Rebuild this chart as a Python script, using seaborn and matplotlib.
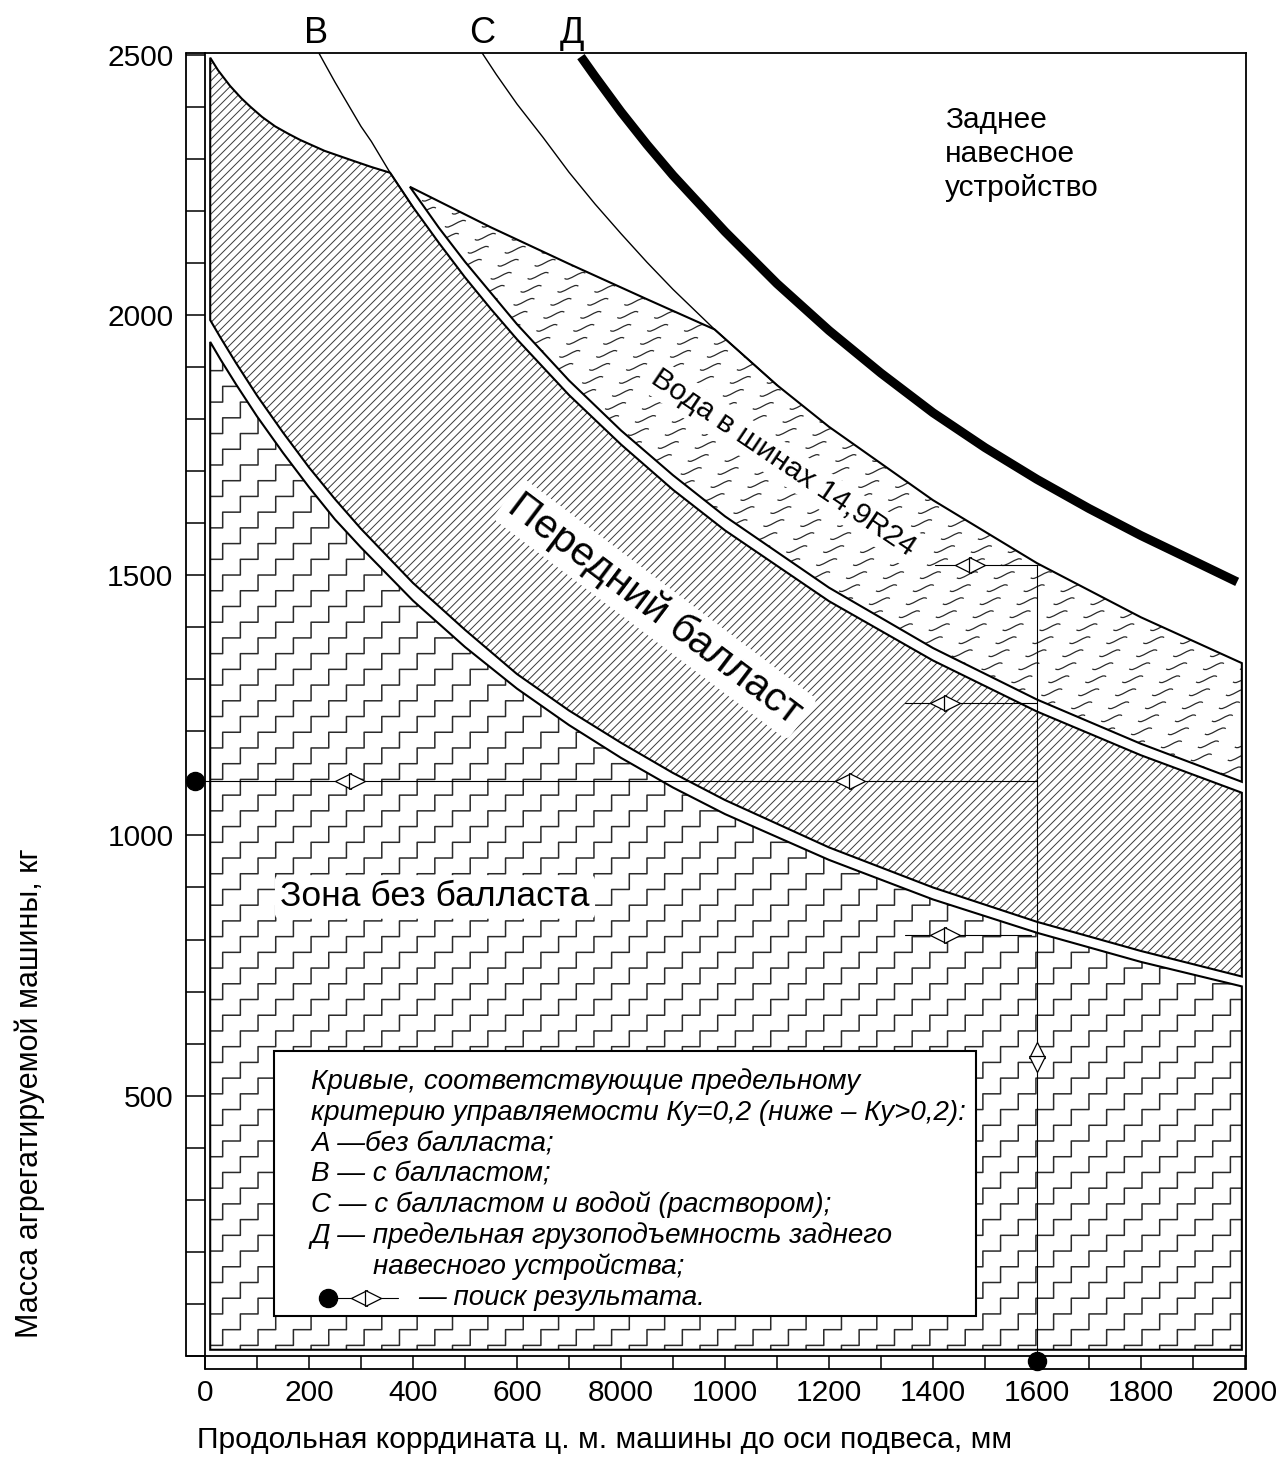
import numpy as np
import matplotlib
matplotlib.use("Agg")
import matplotlib.pyplot as plt
import seaborn as sns
from matplotlib.path import Path
from matplotlib.markers import MarkerStyle
from matplotlib.patches import Polygon, Rectangle

# ---------------- data ----------------
x_ticks = [0, 200, 400, 600, 800, 1000, 1200, 1400, 1600, 1800, 2000]
x_tick_labels = ["0", "200", "400", "600", "8000", "1000", "1200", "1400", "1600", "1800", "2000"]
y_ticks = [500, 1000, 1500, 2000, 2500]

# Curve A (без балласта) - double line
A_x = [10, 30, 60, 100, 150, 200, 250, 300, 400, 500, 600, 700, 800, 900, 1000, 1200, 1400, 1600, 1800, 1994]
A_upper_y = [1990, 1956, 1907, 1845, 1774, 1707, 1646, 1589, 1485, 1395, 1310, 1240, 1178, 1120, 1068, 977, 900, 834, 778, 729]
A_lower_y = [1948, 1914, 1866, 1805, 1735, 1669, 1607, 1553, 1451, 1362, 1282, 1212, 1149, 1092, 1041, 953, 877, 813, 757, 710]

# Curve B (с балластом)
B_x = [219, 230, 250, 270, 300, 320, 356, 400, 450, 500, 550, 600, 700, 800, 900, 1000, 1200, 1400, 1600, 1800, 1994]
B_y = [2503, 2483, 2447, 2413, 2362, 2333, 2273, 2207, 2138, 2072, 2011, 1953, 1846, 1751, 1664, 1586, 1450, 1336, 1238, 1154, 1082]

# water zone: lower edge and upper straight edge
W_low_x = [394, 450, 500, 600, 700, 800, 900, 1000, 1200, 1400, 1600, 1800, 1994]
W_low_y = [2246, 2167, 2102, 1982, 1874, 1778, 1692, 1613, 1476, 1360, 1261, 1176, 1103]
W_top_x = [394, 550, 700, 850, 980]
W_top_y = [2246, 2168, 2098, 2030, 1972]

# Curve C (с балластом и водой)
C_x = [533, 560, 600, 650, 700, 750, 800, 850, 900, 980, 1100, 1200, 1400, 1600, 1800, 1994]
C_y = [2503, 2462, 2405, 2341, 2274, 2213, 2156, 2101, 2049, 1972, 1865, 1785, 1644, 1523, 1419, 1331]

# Curve Д (предельная грузоподъемность)
D_x = [723, 750, 800, 850, 900, 1000, 1100, 1200, 1300, 1400, 1500, 1600, 1700, 1800, 1900, 1985]
D_y = [2496, 2458, 2390, 2327, 2268, 2160, 2060, 1970, 1888, 1812, 1745, 1684, 1628, 1576, 1528, 1487]

# front ballast zone, upper-left boundary
F_top_x = [10, 25, 48, 70, 87, 110, 135, 160, 183, 230, 279, 320, 356]
F_top_y = [2494, 2470, 2440, 2416, 2400, 2380, 2362, 2348, 2336, 2315, 2298, 2284, 2273]

# search example
search_mass = 1105
search_x = 1600
search_start_x = -19
hit_y = [1520, 1255, 808]
hit_from_x = [1404, 1346, 1346]
hit_to_x = [1600, 1600, 1588]
pair_x = [279, 1240, 1471, 1423, 1423]
pair_y = [1105, 1105, 1520, 1255, 808]
vpair_y = 574

# ---------------- figure ----------------
sns.set_theme(style="white")
plt.rcParams["font.family"] = ["Liberation Sans", "DejaVu Sans"]
plt.rcParams["hatch.linewidth"] = 0.7

W, H = 1283, 1461
fig = plt.figure(figsize=(W / 100, H / 100), dpi=100)
fig.patch.set_facecolor("white")
ax = fig.add_axes([205 / W, (H - 1356) / H, (1246 - 205) / W, (1356 - 53) / H])
ax.set_facecolor("white")
XMAX, YMAX = 2002, 2503
ax.set_xlim(0, XMAX)
ax.set_ylim(0, YMAX)


def px2x(px):
    return (px - 205) / 0.52


def py2y(py):
    return (1356 - py) / 0.5205


EDGE = 1.5
INK = "black"

# --- zone without ballast (staircase texture)
zz_x = [10] + A_x + [1994, 10]
zz_y = [12] + A_lower_y + [12, 12]
zz = Polygon(np.column_stack([zz_x, zz_y]), closed=True, fc="white", ec="none", zorder=1)
ax.add_patch(zz)
sx, sy = 34.0, 30.2
n = 80
j = np.arange(2 * n + 1)
sxs, sys_ = [], []
for k in range(-80, 40):
    x0 = k * 2 * sx
    y0 = -40.0
    sxs.append(x0 + sx * np.ceil(j / 2))
    sys_.append(y0 + sy * np.floor(j / 2))
    sxs.append([np.nan])
    sys_.append([np.nan])
stair, = ax.plot(np.concatenate(sxs), np.concatenate(sys_), color="#2a2a2a", lw=1.1, zorder=2)
stair.set_clip_path(zz)
ax.add_patch(Polygon(np.column_stack([zz_x, zz_y]), closed=True, fill=False, ec=INK, lw=EDGE, zorder=5))

# --- front ballast zone (diagonal hatch)
fb_x = F_top_x + B_x[7:] + A_x[::-1]
fb_y = F_top_y + B_y[7:] + A_upper_y[::-1]
fb_xy = np.column_stack([fb_x, fb_y])
ax.add_patch(Polygon(fb_xy, closed=True, fc="white", ec="#3a3a3a", lw=0, hatch="////", zorder=2))
ax.add_patch(Polygon(fb_xy, closed=True, fill=False, ec=INK, lw=EDGE, zorder=5))

# --- water zone (tilde texture)
wz_x = W_top_x + C_x[10:] + W_low_x[::-1]
wz_y = W_top_y + C_y[10:] + W_low_y[::-1]
wz_xy = np.column_stack([wz_x, wz_y])
wz = Polygon(wz_xy, closed=True, fc="white", ec="none", zorder=2)
ax.add_patch(wz)
tilde = Path([(-1.0, -0.25), (-0.75, -0.45), (-0.4, -0.2), (0.0, 0.0),
              (0.4, 0.2), (0.75, 0.45), (1.0, 0.25)],
             [Path.MOVETO, Path.CURVE4, Path.CURVE4, Path.CURVE4,
              Path.CURVE4, Path.CURVE4, Path.CURVE4])
mdx, mdy = 71.0, 25.0
tx, ty = [], []
for r in range(0, 60):
    yy = 1050 + r * mdy
    shift = (r * 13.5) % mdx
    for c in range(-2, 32):
        tx.append(300 + c * mdx + shift)
        ty.append(yy)
sc = ax.scatter(tx, ty, marker=MarkerStyle(tilde), s=15 ** 2, facecolors="none",
                edgecolors="#2a2a2a", linewidths=0.9, zorder=3)
sc.set_clip_path(wz)
ax.add_patch(Polygon(wz_xy, closed=True, fill=False, ec=INK, lw=EDGE, zorder=5))

# --- curves B, C (thin upper parts) and Д (thick)
sns.lineplot(x=B_x[:8], y=B_y[:8], ax=ax, color=INK, lw=1.0, sort=False, estimator=None, zorder=6)
sns.lineplot(x=C_x[:11], y=C_y[:11], ax=ax, color=INK, lw=1.0, sort=False, estimator=None, zorder=6)
sns.lineplot(x=D_x, y=D_y, ax=ax, color=INK, lw=6.5, sort=False, estimator=None, zorder=6,
             solid_capstyle="butt")

# --- search path
ln = dict(color=INK, lw=0.8, zorder=7)
ax.plot([search_start_x, search_x], [search_mass, search_mass], clip_on=False, **ln)
ax.plot([search_x, search_x], [-10, hit_y[0]], clip_on=False, **ln)
for yv, x0, x1 in zip(hit_y, hit_from_x, hit_to_x):
    ax.plot([x0, x1], [yv, yv], **ln)
mk = dict(ms=11, mfc="white", mec=INK, mew=0.9, ls="none", zorder=8)
for xv, yv in zip(pair_x, pair_y):
    ax.plot([xv - 13], [yv], marker="<", **mk)
    ax.plot([xv + 13], [yv], marker=">", **mk)
ax.plot([search_x], [vpair_y + 13], marker="^", **mk)
ax.plot([search_x], [vpair_y - 13], marker="v", **mk)
ax.plot([search_start_x], [search_mass], marker="o", ms=13, color=INK, clip_on=False, zorder=9)
ax.plot([search_x], [-10], marker="o", ms=13, color=INK, clip_on=False, zorder=9)

# --- frame and rulers
for sp in ax.spines.values():
    sp.set_visible(True)
    sp.set_color(INK)
    sp.set_linewidth(1.3)
fr = dict(color=INK, lw=1.3, clip_on=False, zorder=10)
ax.plot([-36.5, -36.5], [0, YMAX], **fr)
ax.plot([-36.5, 0], [YMAX, YMAX], **fr)
ax.plot([-36.5, 0], [0, 0], **fr)
ax.plot([0, 0], [0, -25], **fr)
ax.plot([0, XMAX], [-25, -25], **fr)
ax.plot([XMAX, XMAX], [0, -25], **fr)

yt = list(range(0, 2501, 100))
ax.set_yticks(yt)
ax.set_yticklabels([str(v) if v in y_ticks else "" for v in yt])
xt = list(range(0, 2001, 100))
lab = dict(zip(x_ticks, x_tick_labels))
ax.set_xticks(xt)
ax.set_xticklabels([lab.get(v, "") for v in xt])
ax.tick_params(axis="y", left=True, direction="out", length=13.7, width=1.1, pad=9,
               labelsize=21.5, colors=INK)
ax.tick_params(axis="x", bottom=True, direction="out", length=9.4, width=1.1, pad=7,
               labelsize=21.5, colors=INK)
ax.set_xlabel("")
ax.set_ylabel("")

# --- legend box
ax.add_patch(Rectangle((px2x(274), py2y(1316)), px2x(976) - px2x(274), py2y(1051) - py2y(1316),
                       fc="white", ec=INK, lw=1.5, zorder=11))
leg_lines = [
    (311, 1089, "Кривые, соответствующие предельному"),
    (311, 1120, "критерию управляемости Ку=0,2 (ниже – Ку>0,2):"),
    (311, 1151, "А —без балласта;"),
    (311, 1181, "В — с балластом;"),
    (311, 1212, "С — с балластом и водой (раствором);"),
    (311, 1243, "Д — предельная грузоподъемность заднего"),
    (373, 1274, "навесного устройства;"),
    (418, 1305, "— поиск результата."),
]
for xp, yp, s in leg_lines:
    ax.text(px2x(xp), py2y(yp), s, fontsize=20, style="italic", ha="left", va="baseline",
            color=INK, zorder=12)
ly = py2y(1298)
ax.plot([px2x(328), px2x(398)], [ly, ly], color=INK, lw=0.8, zorder=12)
mk2 = dict(mk)
mk2["zorder"] = 13
ax.plot([px2x(366) - 13], [ly], marker="<", **mk2)
ax.plot([px2x(366) + 13], [ly], marker=">", **mk2)
ax.plot([px2x(328)], [ly], marker="o", ms=13, color=INK, zorder=13)

# --- annotations
for s, xp in (("В", 316), ("С", 482), ("Д", 572)):
    ax.text(px2x(xp), py2y(43), s, fontsize=26, ha="center", va="baseline", clip_on=False, color=INK)
for s, yp in (("Заднее", 128), ("навесное", 162), ("устройство", 196)):
    ax.text(px2x(945), py2y(yp), s, fontsize=21.5, ha="left", va="baseline", color=INK)
bb = dict(boxstyle="round,pad=0.15", fc="white", ec="none")
ax.text(px2x(655), py2y(609), "Передний балласт", fontsize=29.5, rotation=-37,
        rotation_mode="anchor", ha="center", va="center", color=INK, bbox=bb, zorder=8)
ax.text(px2x(783), py2y(463), "Вода в шинах 14,9R24", fontsize=21.5, rotation=-34,
        rotation_mode="anchor", ha="center", va="center", color=INK, bbox=bb, zorder=8)
ax.text(px2x(435), py2y(897), "Зона без балласта", fontsize=25.5, ha="center", va="center",
        color=INK, bbox=bb, zorder=8)

# --- axis titles
fig.text(605 / W, 1 - 1440 / H, "Продольная коррдината ц. м. машины до оси подвеса, мм",
         fontsize=21.6, ha="center", va="center", color=INK)
fig.text(30 / W, 1 - 1093 / H, "Масса агрегатируемой машины, кг", rotation=90,
         fontsize=22, ha="center", va="center", color=INK,
         family=["Liberation Sans Narrow", "Liberation Sans"])

fig.savefig("out.png", dpi=100, facecolor="white")
